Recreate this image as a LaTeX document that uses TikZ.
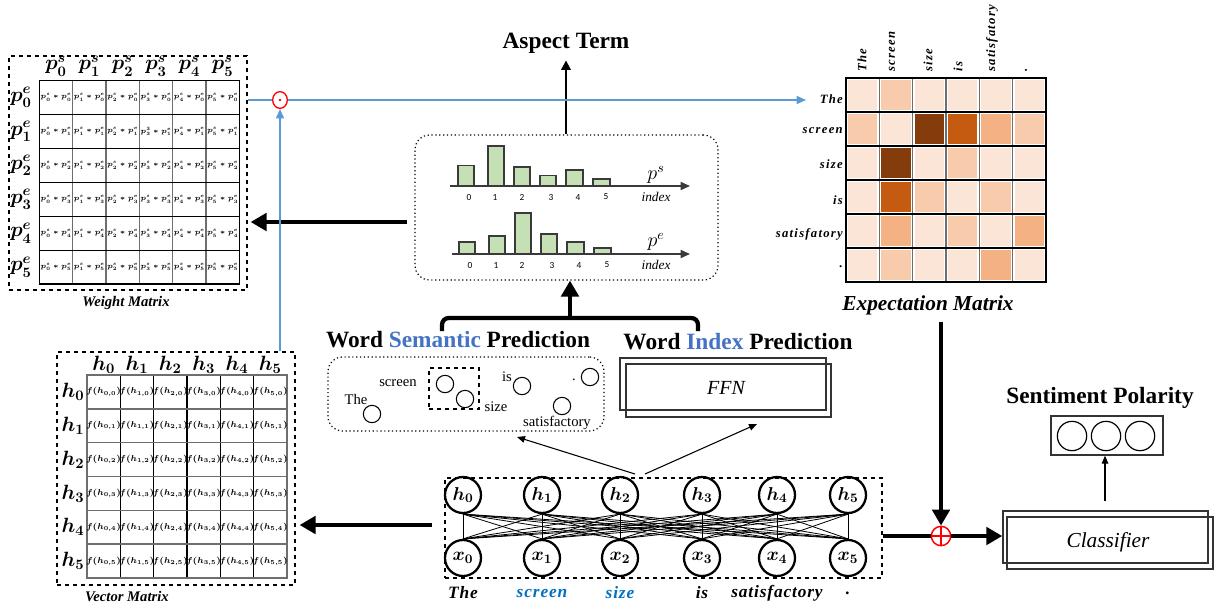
\RequirePackage{fix-cm}
\documentclass[tikz,border=0pt]{standalone}
\usepackage{amsmath}
\usepackage{fontspec}
\setmainfont{Liberation Serif}
\newfontfamily\numfont{Carlito}
\usetikzlibrary{arrows.meta,calc,fit,shapes.geometric}

\definecolor{lineblue}{HTML}{5B9BD5}
\definecolor{headblue}{HTML}{4472C4}
\definecolor{wordblue}{HTML}{0070C0}
\definecolor{barfill}{HTML}{C5E0B4}
\definecolor{bardraw}{HTML}{3A3A3A}
\definecolor{gridgray}{HTML}{6E6E6E}
\definecolor{eL}{HTML}{FBE5D6}
\definecolor{eML}{HTML}{F8CBAD}
\definecolor{eM}{HTML}{F4B183}
\definecolor{eDA}{HTML}{C55A11}
\definecolor{eDB}{HTML}{843C0C}

\newcommand\mybm[1]{\fontsize{#1}{#1}\selectfont\boldmath}

\begin{document}
\begin{tikzpicture}[x=0.75pt,y=-0.75pt,
  thickarr/.style={line width=3.2pt,-{Triangle[length=12pt,width=13pt]}},
  midarr/.style={line width=1.5pt,-{Triangle[length=7pt,width=7pt]}},
  thinarr/.style={line width=0.8pt,-{Triangle[length=6pt,width=5pt]}},
  bluearr/.style={draw=lineblue,line width=1.1pt,-{Triangle[length=7pt,width=6pt]}},
  dashbox/.style={draw,dashed,line width=0.9pt,inner sep=0pt},
  dotbox/.style={draw,dotted,line width=0.9pt,rounded corners=11pt,inner sep=0pt},
  plainbox/.style={draw=black!80,line width=1.1pt,inner sep=0pt},
  heading/.style={font=\fontsize{17.5}{20}\selectfont\bfseries,inner sep=0pt},
  mcap/.style={font=\fontsize{11}{12}\selectfont\bfseries\itshape,inner sep=0pt},
  hdr/.style={font=\mybm{15.5},inner sep=0pt},
  wcell/.style={font=\mybm{5.3},inner sep=0pt},
  vcell/.style={font=\mybm{6.4},inner sep=0pt},
  enc/.style={circle,draw,line width=1.7pt,minimum size=27pt,inner sep=0pt,font=\mybm{14}},
  word/.style={font=\fontsize{13}{15}\selectfont\bfseries\itshape\addfontfeature{LetterSpace=5},inner sep=0pt},
  elab/.style={font=\fontsize{9.5}{10}\selectfont\bfseries\itshape\addfontfeature{LetterSpace=10},inner sep=0pt},
  sem/.style={font=\fontsize{11}{12}\selectfont,inner sep=0pt},
  dot/.style={circle,draw,line width=0.8pt,minimum size=13pt,inner sep=0pt},
  bar/.style={fill=barfill,draw=bardraw,line width=1pt},
  tick/.style={font=\numfont\fontsize{7}{8}\selectfont,inner sep=0pt},
  axis/.style={draw=bardraw,line width=1.2pt,-{Triangle[length=7pt,width=6pt]}},
]
\useasboundingbox (0,0) rectangle (1219,607);

% ---------------- Weight matrix ----------------
\node[dashbox,fit={(9,56) (247,290)}] (wbox) {};
\draw[gridgray,line width=1pt] foreach \c in {1,...,5} {({39.3+33.33*\c},80.7) -- ({39.3+33.33*\c},284)};
\draw[line width=0.9pt] foreach \r in {1,...,5} {(39.3,{80.7+33.88*\r}) -- (239.3,{80.7+33.88*\r})};
\draw[line width=1pt] (39.3,80.7) rectangle (239.3,284);
\foreach \r in {0,...,5}{
  \foreach \c in {0,...,5}{
    \pgfmathtruncatemacro\k{10*\r+\c}
    \def\wsa{s}
    \ifnum\k=13 \def\wsa{3}\fi
    \node[wcell] (w\r\c) at ({39.3+33.33*(\c+0.5)},{80.7+33.88*(\r+0.5)}) {$p^{\wsa}_{\c}*p^{e}_{\r}$};
  }
}
\foreach \c in {0,...,5}{
  \node[hdr] (wc\c) at ({39.3+33.33*(\c+0.5)},66) {$p^{s}_{\c}$};
  \node[hdr] (wr\c) at (21,{80.7+33.88*(\c+0.5)}) {$p^{e}_{\c}$};
}
\node[mcap] (wcap) at (126,303) {Weight Matrix};

% ---------------- Vector matrix ----------------
\node[dashbox,fit={(57,352) (295,585)}] (vbox) {};
\draw[line width=1pt] foreach \c in {1,...,5} {({87+33.33*\c},375) -- ({87+33.33*\c},578)};
\draw[gridgray,line width=1pt] foreach \r in {1,...,5} {(87,{375+33.83*\r}) -- (287,{375+33.83*\r})};
\draw[gridgray,line width=1pt] (87,375) rectangle (287,578);
\foreach \r in {0,...,5}{
  \foreach \c in {0,...,5}{
    \node[vcell] (v\r\c) at ({87+33.33*(\c+0.5)},{375+33.83*(\r+0.5)}) {$f(h_{\c,\r})$};
  }
}
\foreach \c in {0,...,5}{
  \node[hdr] (vc\c) at ({87+33.33*(\c+0.5)},365) {$h_{\c}$};
  \node[hdr] (vr\c) at (73,{375+33.83*(\c+0.5)}) {$h_{\c}$};
}
\node[mcap] (vcap) at (127,597) {Vector Matrix};

% ---------------- Start / end distributions ----------------
\node[dotbox,fit={(415,135) (718,280)}] (dist) {};
% p^s
\draw[bar] (458,186) rectangle (474,165.7);
\draw[bar] (488,186) rectangle (504,146);
\draw[bar] (514,186) rectangle (530,167);
\draw[bar] (540,186) rectangle (556,175.7);
\draw[bar] (566,186) rectangle (583,170);
\draw[bar] (593,186) rectangle (610,179);
\coordinate (sa) at (450,186);
\coordinate (sb) at (690,186);
\draw[axis] (sa) -- (sb);
\foreach \n/\x in {0/469,1/495,2/522,3/551,4/578,5/606}{
  \node[tick] (st\n) at (\x,197) {\n};
}
\node[font=\fontsize{15}{16}\selectfont,inner sep=0pt] (ps) at (656,175) {$p^{s}$};
\node[font=\fontsize{10}{11}\selectfont\itshape,inner sep=0pt] (si) at (656,197) {index};
% p^e
\draw[bar] (459,254) rectangle (475,242);
\draw[bar] (489,254) rectangle (505,236);
\draw[bar] (515,254) rectangle (531,213);
\draw[bar] (541,254) rectangle (557,234);
\draw[bar] (567,254) rectangle (584,242);
\draw[bar] (594,254) rectangle (611,248);
\coordinate (ea) at (452,254);
\coordinate (eb) at (690,254);
\draw[axis] (ea) -- (eb);
\foreach \n/\x in {0/470,1/496,2/522,3/552,4/579,5/607}{
  \node[tick] (et\n) at (\x,265) {\n};
}
\node[font=\fontsize{15}{16}\selectfont,inner sep=0pt] (pe) at (656,242) {$p^{e}$};
\node[font=\fontsize{10}{11}\selectfont\itshape,inner sep=0pt] (ei) at (656,265) {index};

% ---------------- Aspect term ----------------
\node[heading] (aspect) at (566,43) {Aspect Term};
\draw[midarr] (dist.north -| aspect) -- ($(aspect.south)+(0,7)$);

% distributions -> weight matrix
\coordinate (dw) at (407,222);
\draw[thickarr] (dw) -- ($(dw -| wbox.east)+(3,0)$);

% ---------------- Element-wise product and expectation ----------------
\node[ellipse,draw=red,line width=1pt,minimum width=11pt,minimum height=12.5pt,inner sep=0pt] (odot) at (280,100) {};
\fill[red] (odot.center) circle (1.4);
\draw[draw=lineblue,line width=1.1pt] (odot.west -| wbox.east) -- (odot.west);
\coordinate (expin) at (806,100);
\draw[bluearr] (odot.east) -- (expin);
\draw[bluearr] (vbox.north -| odot) -- (odot.south);

% ---------------- Expectation matrix ----------------
\foreach \r/\ca/\cb/\cc/\cd/\ce/\cf in {0/L/ML/L/L/L/L,1/ML/L/DB/DA/M/ML,2/L/DB/L/ML/L/L,3/L/DA/ML/L/ML/L,4/L/M/L/ML/L/M,5/L/ML/L/L/M/L}{
  \foreach \col [count=\c from 0] in {\ca,\cb,\cc,\cd,\ce,\cf}{
    \fill[e\col] ({846+33.33*\c+2},{78+34*\r+2}) rectangle ({846+33.33*(\c+1)-2},{78+34*(\r+1)-2});
  }
}
\draw[gridgray,line width=1pt] foreach \c in {1,...,5} {({846+33.33*\c},78) -- ({846+33.33*\c},282)};
\draw[line width=1pt] foreach \r in {1,...,5} {(846,{78+34*\r}) -- (1046,{78+34*\r})};
\draw[line width=1.1pt] (846,78) rectangle (1046,282);
\foreach \w/\x [count=\i] in {The/862,screen/892,size/928,is/958,satisfatory/992,./1026}{
  \node[elab,rotate=90,anchor=west] (ec\i) at (\x,72) {\w};
}
\foreach \w/\y [count=\i] in {The/99,screen/131,size/164,is/200,satisfatory/234,./267}{
  \node[elab,anchor=east] (er\i) at (843,\y) {\w};
}
\node[font=\fontsize{16}{18}\selectfont\bfseries\itshape,inner sep=0pt] (ecap) at (928,305) {Expectation Matrix};

% ---------------- Prediction heads ----------------
\node[heading] (wsp) at (458,340) {Word \textcolor{headblue}{Semantic} Prediction};
\node[heading] (wip) at (738,342) {Word \textcolor{headblue}{Index} Prediction};
\draw[line width=3.2pt,rounded corners=5pt] (442,331) -- (442,318) -- (698,318) -- (698,331);
\draw[thickarr] (570,320) -- (dist.south -| 570,0);

\node[dotbox,fit={(328,357) (604,431)}] (sembox) {};
\node[sem] (tThe) at (356,399) {The};
\node[dot] (dThe) at (372,414) {};
\node[sem] (tscreen) at (398,383) {screen};
\node[draw,dashed,line width=1.5pt,fit={(429,368) (479,409)},inner sep=0pt] (pair) {};
\node[dot] (dscreen) at (445,384) {};
\node[dot] (dsize) at (465,399) {};
\node[sem] (tsize) at (496,407) {size};
\node[sem] (tis) at (507,377) {is};
\node[dot] (dis) at (522,386) {};
\node[sem] (tdot) at (574,380) {.};
\node[dot] (ddot) at (590,377) {};
\node[dot] (dsat) at (562,406) {};
\node[sem] (tsat) at (557,423) {satisfactory};

\node[plainbox,fit={(620,358) (826,410)}] (ffnback) {};
\node[plainbox,fit={(626,364) (831,417)}] (ffn) {};
\node[font=\fontsize{15}{16}\selectfont\itshape,inner sep=0pt] (ffnt) at (726,388) {FFN};

% ---------------- Encoder ----------------
\node[dashbox,fit={(445,478) (882,578)}] (encbox) {};
\foreach \i/\x in {0/463,1/542,2/620,3/702,4/777,5/848}{
  \node[enc] (h\i) at (\x,495) {$h_{\i}$};
  \node[enc] (x\i) at (\x,558) {$x_{\i}$};
}
\foreach \i in {0,...,5}{
  \foreach \j in {0,...,5}{
    \draw[line width=0.6pt] (h\i.south) -- (x\j.north);
  }
}
\foreach \i/\w/\c in {0/The/black,1/screen/wordblue,2/size/wordblue,3/is/black,4/satisfactory/black,5/./black}{
  \node[word,text=\c] (wt\i) at (x\i |- 0,593) {\w};
}
\coordinate (es) at (635,474);
\coordinate (ee) at (517,437);
\coordinate (fs) at (645,474);
\coordinate (fe) at (757,424);
\draw[thinarr] (es) -- (ee);
\draw[thinarr] (fs) -- (fe);

% encoder -> vector matrix
\coordinate (ev) at (432,525);
\draw[thickarr] (ev) -- ($(ev -| vbox.east)+(4,0)$);

% ---------------- Fusion and classifier ----------------
\node[circle,draw=red,line width=1.1pt,minimum size=14.5pt,inner sep=0pt] (plus) at (941,536) {};
\draw[red,line width=1.1pt] (plus.north) -- (plus.south) (plus.west) -- (plus.east);
\draw[line width=3.2pt] (plus.west -| encbox.east) -- (plus.west);
\draw[thickarr] (plus |- 0,322) -- (plus.north);

\node[plainbox,fit={(1003,511) (1208,563)}] (clsback) {};
\node[plainbox,fit={(1007,517) (1213,569)}] (cls) {};
\node[font=\fontsize{16}{18}\selectfont\itshape,inner sep=0pt] (clst) at (1108,542) {Classifier};
\draw[thickarr] (plus.east) -- (plus.east -| clsback.west);

\node[plainbox,fit={(1051,416) (1163,455)}] (pol) {};
\foreach \i/\x in {1/1072,2/1106,3/1140}{
  \node[circle,draw,line width=0.9pt,minimum size=22pt,inner sep=0pt] (pc\i) at (\x,436) {};
}
\draw[thinarr] (1105,501) -- (pol.south -| 1105,0);
\node[heading] (sent) at (1100,398) {Sentiment Polarity};

\end{tikzpicture}
\end{document}
